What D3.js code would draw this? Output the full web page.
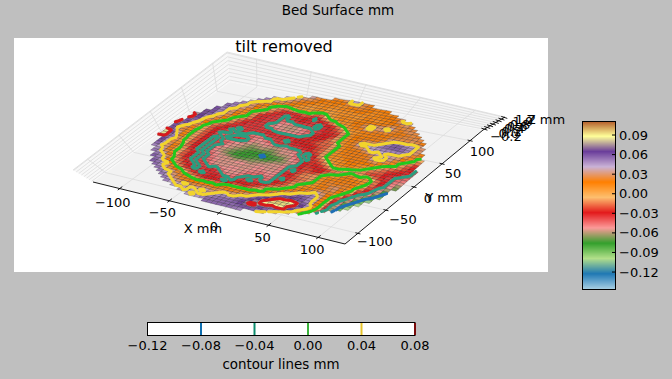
<!DOCTYPE html>
<html><head><meta charset="utf-8">
<script src="https://cdn.jsdelivr.net/npm/d3@7/dist/d3.min.js"></script>
<style>html,body{margin:0;padding:0;background:#bfbfbf}svg{display:block}text{font-family:"DejaVu Sans",sans-serif;fill:#000}</style>
</head><body><svg id="c" width="672" height="379"></svg>
<script>
// Height map: one row per Y (+120 .. -120 mm, 5 mm steps), one letter per X, centred on X=0.
// a = -0.145 mm, each letter +0.01 mm
const surfaceRows = [
"sqqsttsqr",
"ssqqrqqsttsqrqqrq",
"tsssqrqqqpqqsqrqqqqpq",
"ttssqrqqpqqpqqqrqqpqqqrrq",
"uttssqrqqpqqpqqpqqqpqqqqqrtts",
"utssrrqqpppqppppqpppqqpqqqqrsrq",
"vutsrrqqppppqpppqpqqpqqqpqqrqrsqr",
"utsrqponopqpponoppqqpqqqrqrrssqrsrq",
"utsrqponnmlmnomlnoppqpqrqstsstsqrqsrq",
"uutsrqponmlllmlmkmmnopqpqrstsqsrqrqrqsr",
"uutssrponmllklllmlllmmnopqpqrqrqqrqsrsrqr",
"uutsrponmlllkllmlllkllmnopqpqrqrqrsqrqsrq",
"vutsrqpomllllkkkllllklmmmnopqqpqrqrstttttsr",
"vutsrqponmlllkjjjjkklllmmmopqrqrqrstuuuttsr",
"vvutsrponmlllkjjjijjkkllmlnopqqrssstuuvuutsrq",
"wvusrqonmllllkkjjjjjkklmlmnopqqsttttuuuuutsrq",
"wvvtsrponmllllllkkkkkkllmlnnopqqrsstttttttsrpoo",
"xwusrponmlllllllmllllllmmmnmnopqrqrststsssrqpon",
"xwtsponmllkllllllllmlmmlmmnnnopqqrqrqsstssrponm",
"wvtrpnmmlklllkkkllllkllmmlmmnopqqrqrqsttsrponml",
"xwusqonmlllkkkkkjkklllmlllmmnnopqqrqrqrssrqponmlk".slice(0,49),
"xvtsqonmlkkklllkjjkkllkllllmmnopqpqrqrqrqponnmmlk",
"wusrponmllkllllkjjjjjjjjjklklnopqpqqrqqqponnmmllk",
"vtrqponmlklkkkjjiijjiijjjklklmnopqpqqqpponnmlmlkk",
"wusrponmlklkkjjjiiiiiijjjjklkmmnopqqqqponmnmllkkk",
"xxtrponmlkllkjjiihhhhhiiijkklmmmnopponmnnmmmllkkj",
"xxusqonmlklkjjiihhhhghhhijjklmmlmmnnnopoopoonmlkji".replace("opoopoon","opoopon"),
"xxvtqonmlklkjiihhhhhhhhiiijklmmmmlnnoppqpppomlkjh",
"wwusqpnmlklkjjihhhhiiiijjjkllmnmlnoppqrqpqpomlkih",
"vusqpomlklkkjjjiiiiijjjjjklkmmnnopqpqrqrqpnmkih",
"vusrqonmlklkjjjjjkjjjjjjjkllmnonopqrqrqrqonlkig",
"utsrqonmlklkkjjjjjjjjkjjjklmmnnnopqrrqrrpnmljhf",
"uttrqonmlklkkjjjjjjjjjkkjkllmmnnopqrqsrqpnlkige",
"utsrpnmlkllkjjjjkjjkkkkjklkmnnopqpqrsrqomkigd",
"uutsqonmlkllklkjjjjkkklkklmmnopqpqrqrrpnljhfd",
"uutronmmlkllllkjjkklllkklmmnopqqrssrqomkige",
"vutsqonmlkllmllkkkllklllmnnopqqrstsrpnljhfd",
"vuttqonmmlkllmllkllmmlmnnopqrsttutrpnlige",
"uuusrqponmmlmllklmmlmnnopqrsstuuutrpmkhfd",
"uutsrrponnmlmmmmmnnmnooprstuuvvutrpmkhe",
"uuttsrqponooonpqppqpqqrstuvvwvutspnkg",
"uutsrrqrqqpqpqrqrqrrstuvwxxxxwutpmi",
"uutsrrqqrqrqrrqrrsstuvwxyyyxwusok",
"uutsstsrsssrstssttuvwxyyyxwuspm",
"uttssststssttttuuvwwxxwxxwtqn",
"uttsttssttuuuuvvxxvvvutrp",
"uttsttuuuuuuuvvvvutsq",
"utttuuuuuuuuuutsr",
"uuuuuuutt"
];
const gridStep = 5, gridMin = -120;
const paired = ["#a6cee3","#1f78b4","#b2df8a","#33a02c","#fb9a99","#e31a1c","#fdbf6f","#ff7f00","#cab2d6","#6a3d9a","#ffff99","#b15928"];
const colorDomain = [-0.146, 0.1115];
const contourLevels = [-0.08,-0.04,0,0.04,0.08];
const contourColors = ["#1f6fb4","#2a9d7f","#22c81e","#f2d42c","#d8191c"];
const contourBarColors = ["#0f6fb0","#0e8c6e","#3bb33b","#e6c32a","#7a0a0a"];
const contourBarTicks = [-0.12,-0.08,-0.04,0,0.04,0.08];
const colorbarTicks = [-0.12,-0.09,-0.06,-0.03,0,0.03,0.06,0.09];
const xTicks = [-100,-50,0,50,100];
const yTicks = [-100,-50,0,50,100];
const zTicks = [-0.2,0,0.2,0.4,0.6,0.8,1.0,1.2];
const xDomain = [-127,127], yDomain = [-123,123], zDomain = [-0.3,1.25];

const fmt = v => d3.format(".2f")(v).replace("-","\u2212");
const fmt1 = v => d3.format(".1f")(v).replace("-","\u2212");
const fmt0 = v => String(v).replace("-","\u2212");

const svg = d3.select("#c");
svg.append("rect").attr("width",672).attr("height",379).attr("fill","#bfbfbf");
svg.append("rect").attr("x",14).attr("y",38).attr("width",534).attr("height",234).attr("fill","#fff");

// projection: floor corners and wall heights
const L=[93,182],F=[345,244],R=[483,130],B=[230,82];
const upL=[-20,-12],upB=[-3,-30],upR=[22,-13];
const sx=d3.scaleLinear().domain(xDomain).range([0,1]);
const sy=d3.scaleLinear().domain(yDomain).range([0,1]);
const sz=d3.scaleLinear().domain(zDomain).range([0,1]);
const lift=d3.scaleLinear().domain([-0.2,1.2]).range([1,29]);
const mix=(a,b,t)=>[a[0]+(b[0]-a[0])*t,a[1]+(b[1]-a[1])*t];
function floorPt(x,y){const u=sx(x),v=sy(y);return mix(mix(L,F,u),mix(B,R,u),v);}
function surf(x,y,z){const p=floorPt(x,y);return [p[0],p[1]-lift(z)];}
// wall points; wall A: x=min (L..B), wall B: y=max (B..R)
function wallA(y,z){const v=sy(y),t=sz(z),b=mix(L,B,v),u=mix(upL,upB,v);return [b[0]+u[0]*t,b[1]+u[1]*t];}
function wallB(x,z){const v=sx(x),t=sz(z),b=mix(B,R,v),u=mix(upB,upR,v);return [b[0]+u[0]*t,b[1]+u[1]*t];}
const line=d3.line();
// panes
svg.append("path").attr("d",line([L,F,R,B])+"Z").attr("fill","#f2f2f2");
svg.append("path").attr("d",line([L,B,[B[0]+upB[0],B[1]+upB[1]],[L[0]+upL[0],L[1]+upL[1]]])+"Z").attr("fill","#f8f8f8");
svg.append("path").attr("d",line([B,R,[R[0]+upR[0],R[1]+upR[1]],[B[0]+upB[0],B[1]+upB[1]]])+"Z").attr("fill","#f5f5f5");
const gridC="#dcdcdc";
const gl=svg.append("g").attr("fill","none").attr("stroke",gridC).attr("stroke-width",0.8);
xTicks.forEach(x=>{gl.append("path").attr("d",line([floorPt(x,yDomain[0]),floorPt(x,yDomain[1]),wallB(x,zDomain[1])]));});
yTicks.forEach(y=>{gl.append("path").attr("d",line([floorPt(xDomain[0],y),floorPt(xDomain[1],y)]));
  gl.append("path").attr("d",line([floorPt(xDomain[0],y),wallA(y,zDomain[1])]));});
zTicks.concat([zDomain[1]]).forEach(z=>{gl.append("path").attr("d",line([wallA(yDomain[0],z),wallA(yDomain[1],z),wallB(xDomain[1],z)]));});

// grid
const zOf=c=>(c.charCodeAt(0)-97)*0.01-0.145;
const nCols=49;
const zGrid=surfaceRows.map((row,i)=>{
  const a=new Array(nCols).fill(null);
  const off=Math.floor((nCols-row.length)/2);
  for(let k=0;k<row.length;k++)a[off+k]=zOf(row[k]);
  return {y:120-i*gridStep,z:a};
});
const nodes=d3.range(12).map(i=>colorDomain[0]+(colorDomain[1]-colorDomain[0])*i/11);
const cmap=d3.scaleLinear().domain(nodes).range(paired).clamp(true);
const cells=[];
for(let r=0;r<zGrid.length-1;r++)for(let c=0;c<nCols-1;c++){
  const a=zGrid[r].z[c],b=zGrid[r].z[c+1],d=zGrid[r+1].z[c],e=zGrid[r+1].z[c+1];
  if(a==null||b==null||d==null||e==null)continue;
  const y0=zGrid[r].y,y1=zGrid[r+1].y,x0=gridMin+c*gridStep,x1=x0+gridStep;
  cells.push({pts:[surf(x0,y0,a),surf(x1,y0,b),surf(x1,y1,e),surf(x0,y1,d)],z:(a+b+d+e)/4,
    corners:[[x0,y0,a],[x1,y0,b],[x1,y1,e],[x0,y1,d]]});
}
const shade=c=>d3.rgb(c).darker(0.1).formatRgb();
svg.append("g").selectAll("path").data(cells).join("path")
 .attr("d",d=>line(d.pts)+"Z").attr("fill",d=>shade(cmap(d.z)))
 .attr("stroke","#000").attr("stroke-opacity",0.42).attr("stroke-width",0.5);

// contour lines (marching squares on the same cells)
contourLevels.forEach((lv,i)=>{
  const p=d3.path();
  cells.forEach(cell=>{
    const cs=cell.corners,hits=[];
    for(let k=0;k<4;k++){const A=cs[k],Q=cs[(k+1)%4];
      if((A[2]>=lv)!==(Q[2]>=lv)){const t=(lv-A[2])/(Q[2]-A[2]);
        hits.push(surf(A[0]+(Q[0]-A[0])*t,A[1]+(Q[1]-A[1])*t,lv));}}
    for(let k=0;k+1<hits.length;k+=2){p.moveTo(hits[k][0],hits[k][1]);p.lineTo(hits[k+1][0],hits[k+1][1]);}
  });
  svg.append("path").attr("d",p.toString()).attr("fill","none").attr("stroke",contourColors[i])
    .attr("stroke-width",3).attr("stroke-linecap","round");
});

// axes
const ax=svg.append("g");
const blk=(a,b,w=0.9)=>ax.append("path").attr("d",line([a,b])).attr("stroke","#000").attr("stroke-width",w).attr("fill","none");
blk(L,F);blk(F,R);blk(R,[R[0]+upR[0],R[1]+upR[1]]);
const txt=(x,y,s,size=13,anchor="middle")=>svg.append("text").attr("x",x).attr("y",y).attr("text-anchor",anchor)
  .attr("dominant-baseline","central").attr("font-size",size).text(s);
const xOffs=[[-7,14],[-7,12],[-5,13],[-6,12],[-6,12]];
xTicks.forEach((x,i)=>{const p=floorPt(x,yDomain[0]);blk([p[0]-2,p[1]+1.5],[p[0]+2.5,p[1]-2]);txt(p[0]+xOffs[i][0],p[1]+xOffs[i][1],fmt0(x));});
const yOffs=[[17,8],[17,9],[14,11],[11,10],[12,11]];
yTicks.forEach((y,i)=>{const p=floorPt(xDomain[1],y);blk([p[0]-2.5,p[1]-0.6],[p[0]+2.5,p[1]+0.6]);txt(p[0]+yOffs[i][0],p[1]+yOffs[i][1],fmt0(y));});
zTicks.forEach((z,i)=>{const p=wallB(xDomain[1],z);blk([p[0]-3,p[1]-1],[p[0]+3,p[1]+1]);txt(506+i*2.8,136-i*2.4,fmt1(z));});
txt(203,228,"X mm");txt(444,197,"Y mm");txt(546,119,"Z mm");

txt(284,46,"tilt removed",16);
txt(338,10,"Bed Surface mm",13.5);

// colour bar
const cbY=d3.scaleLinear().domain(colorDomain).range([289,121]);
svg.append("g").selectAll("rect").data(d3.range(121,289)).join("rect")
 .attr("x",582).attr("y",d=>d).attr("width",33).attr("height",1.2).attr("fill",d=>cmap(cbY.invert(d+0.5)));
svg.append("rect").attr("x",582.5).attr("y",121.5).attr("width",33).attr("height",168).attr("fill","none").attr("stroke","#000");
colorbarTicks.forEach(t=>{const y=cbY(t);svg.append("path").attr("d",line([[612,y],[615,y]])).attr("stroke","#000");txt(619,y,fmt(t),13,"start");});

// contour bar
const cx=d3.scaleLinear().domain([-0.12,0.08]).range([147.5,415]);
svg.append("rect").attr("x",147.5).attr("y",322.5).attr("width",267.5).attr("height",13).attr("fill","#fff").attr("stroke","#000");
contourLevels.forEach((lv,i)=>{svg.append("path").attr("d",line([[cx(lv),323],[cx(lv),335]])).attr("stroke",contourBarColors[i]).attr("stroke-width",2);});
contourBarTicks.forEach(t=>{txt(cx(t),345,fmt(t));});
txt(281,364,"contour lines mm",13.4);
</script></body></html>
